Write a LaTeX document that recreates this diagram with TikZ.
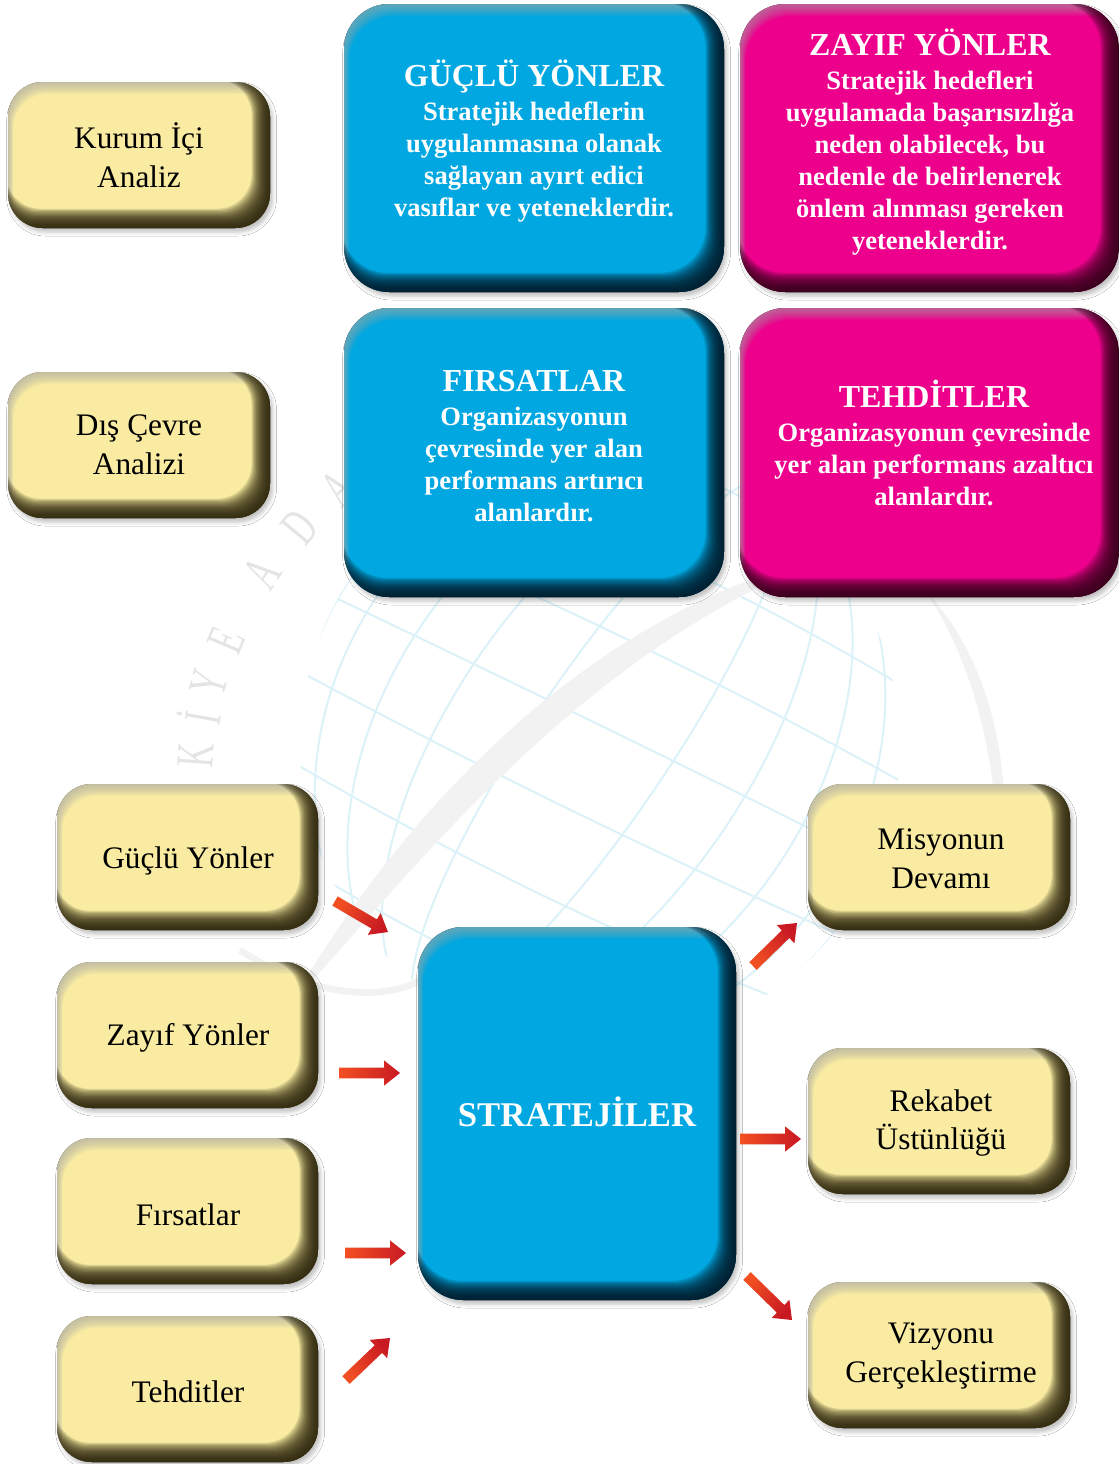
\documentclass[tikz,border=0pt]{standalone}
\usepackage{fontspec}
\setmainfont{Liberation Serif}
\usetikzlibrary{calc,shadows.blur}
\definecolor{ymain}{RGB}{249,236,162}
\definecolor{ydark}{RGB}{40,34,10}
\definecolor{bmain}{RGB}{0,167,224}
\definecolor{bdark}{RGB}{0,25,40}
\definecolor{mmain}{RGB}{236,0,140}
\definecolor{mdark}{RGB}{50,0,25}
\definecolor{arrA}{RGB}{242,80,35}
\definecolor{arrB}{RGB}{200,25,35}
\definecolor{globe}{RGB}{220,242,249}
\definecolor{swoosh}{RGB}{242,242,242}
\definecolor{wmark}{RGB}{228,228,228}
\tikzset{
  ylabel/.style={align=center, font=\fontsize{23.5}{29}\selectfont, text=black},
  wlabel/.style={align=center, font=\bfseries\fontsize{19.9}{24}\selectfont, text=white},
  slabel/.style={align=center, font=\bfseries\fontsize{26}{30}\selectfont, text=white},
  wmletter/.style={font=\fontsize{40}{40}\selectfont, text=wmark, inner sep=0pt},
  globeline/.style={draw=globe, line width=1.5pt},
}
\newcommand\ttl[1]{{\fontsize{24}{24}\selectfont #1}}
\newcommand\cnd[1]{\scalebox{0.62}[1]{#1}}
% #1 x1, #2 y1, #3 x2, #4 y2, #5 main, #6 dark, #7 radius
\newcommand\shinybox[7]{%
  \fill[#6!80!black, rounded corners=#7, blur shadow={shadow xshift=2pt,shadow yshift=-3pt,shadow blur radius=3pt,shadow opacity=25}] (#1,#2) rectangle (#3,#4);
  \begin{scope}
    \clip[rounded corners=#7] (#1,#2) rectangle (#3,#4);
    \fill[#5] (#1,#2) rectangle (#3,#4);
    \foreach \i in {1,...,12}{
      \fill[black!35, opacity=0.07, even odd rule, rounded corners=#7]
        (#1-30,#2-30) rectangle (#3+30,#4+30)
        ({#1+0.45*\i},{#2+1.0*\i}) rectangle (#3+20,#4+20);
    }
    \foreach \i in {1,...,16}{
      \fill[#6, opacity=0.15, even odd rule, rounded corners=#7]
        (#1-30,#2-30) rectangle (#3+30,#4+30)
        ({#1-10+0.5*\i},{#2-10+0.5*\i}) rectangle ({#3-1.15*\i},{#4-1.2*\i});
    }
  \end{scope}
}
% #1 start, #2 end, #3 shading angle
\newcommand\redarrow[3]{%
  \coordinate (ah) at ($(#2)!12pt!(#1)$);
  \shade[left color=arrA, right color=arrB, shading angle=#3]
    ($(#1)!4pt!90:(#2)$) -- ($(ah)!4pt!90:(#2)$) -- ($(ah)!9.5pt!90:(#2)$) -- (#2)
    -- ($(ah)!9.5pt!-90:(#2)$) -- ($(ah)!4pt!-90:(#2)$) -- ($(#1)!4pt!-90:(#2)$) -- cycle;
}
\begin{document}
\begin{tikzpicture}[x=0.75pt,y=-0.75pt]
\fill[white] (0,0) rectangle (1119,1464);
\useasboundingbox (0,0) rectangle (1119,1464);

% faint background emblem
\begin{scope}
  \clip (600,745) circle (300);
  \begin{scope}[shift={(600,745)}, rotate=-26]
    \foreach \b in {-240,-165,-90,-15,60,135,210}{
      \draw[globeline] (-420,\b) .. controls (-150,{\b+0.25*\b}) and (150,{\b+0.25*\b}) .. (420,\b);
    }
  \end{scope}
  \begin{scope}[shift={(600,745)}, rotate=-34]
    \foreach \r in {70,150,215,268,300}{
      \draw[globeline] (0,0) ellipse [x radius=\r, y radius=320];
    }
  \end{scope}
\end{scope}
\fill[swoosh] (290,1005) .. controls (380,850) and (560,620) .. (830,555)
  .. controls (575,655) and (415,870) .. (290,1005) -- cycle;
\fill[swoosh] (925,590) .. controls (1000,670) and (1015,790) .. (1000,905)
  .. controls (1000,790) and (985,680) .. (925,590) -- cycle;
\draw[swoosh, line width=5pt] (240,950) .. controls (330,1010) and (420,1000) .. (440,960);
\node[wmletter, rotate=86] (wk) at (196,755) {\cnd{K}};
\node[wmletter, rotate=80] (wi) at (199,717) {\cnd{İ}};
\node[wmletter, rotate=74] (wy) at (209,683) {\cnd{Y}};
\node[wmletter, rotate=67] (we) at (226,640) {\cnd{E}};
\node[wmletter, rotate=57] (wa) at (262,573) {\cnd{A}};
\node[wmletter, rotate=50] (wd) at (300,527) {\cnd{D}};
\node[wmletter, rotate=43] (wa2) at (338,488) {\cnd{A}};

% top area
\shinybox{8}{82}{270}{228}{ymain}{ydark}{26pt}
\node[ylabel] (kurum) at (139,155) {Kurum İçi\\Analiz};
\shinybox{8}{372}{270}{518}{ymain}{ydark}{26pt}
\node[ylabel] (dis) at (139,445) {Dış Çevre\\Analizi};

\shinybox{344}{4}{724}{292}{bmain}{bdark}{34pt}
\node[wlabel] (guclu) at (534,141) {\ttl{GÜÇLÜ YÖNLER}\\[1.5pt]Stratejik hedeflerin\\uygulanmasına olanak\\sağlayan ayırt edici\\vasıflar ve yeteneklerdir.};
\shinybox{740}{4}{1119}{292}{mmain}{mdark}{34pt}
\node[wlabel] (zayif) at (930,142) {\ttl{ZAYIF YÖNLER}\\[1.5pt]Stratejik hedefleri\\uygulamada başarısızlığa\\neden olabilecek, bu\\nedenle de belirlenerek\\önlem alınması gereken\\yeteneklerdir.};
\shinybox{344}{308}{724}{597}{bmain}{bdark}{34pt}
\node[wlabel] (firsat) at (534,446) {\ttl{FIRSATLAR}\\[1.5pt]Organizasyonun\\çevresinde yer alan\\performans artırıcı\\alanlardır.};
\shinybox{740}{308}{1119}{597}{mmain}{mdark}{34pt}
\node[wlabel] (tehdit) at (934,443) {\ttl{TEHDİTLER}\\[1.5pt]Organizasyonun çevresinde\\yer alan performans azaltıcı\\alanlardır.};

% bottom area
\shinybox{57}{784}{318}{930}{ymain}{ydark}{26pt}
\node[ylabel] (gy) at (188,861) {Güçlü Yönler};
\shinybox{57}{962}{318}{1108}{ymain}{ydark}{26pt}
\node[ylabel] (zy) at (188,1038) {Zayıf Yönler};
\shinybox{57}{1138}{318}{1284}{ymain}{ydark}{26pt}
\node[ylabel] (fr) at (188,1215) {Fırsatlar};
\shinybox{57}{1316}{318}{1462}{ymain}{ydark}{26pt}
\node[ylabel] (th) at (188,1392) {Tehditler};

\shinybox{418}{927}{736}{1300}{bmain}{bdark}{34pt}
\node[slabel] (str) at (577,1112) {STRATEJİLER};

\shinybox{808}{784}{1070}{930}{ymain}{ydark}{26pt}
\node[ylabel] (mis) at (941,859) {Misyonun\\Devamı};
\shinybox{808}{1048}{1070}{1194}{ymain}{ydark}{26pt}
\node[ylabel] (rek) at (941,1123) {Rekabet\\Üstünlüğü};
\shinybox{808}{1282}{1070}{1428}{ymain}{ydark}{26pt}
\node[ylabel] (viz) at (941,1356) {Vizyonu\\Gerçekleştirme};

% arrows
\coordinate (a1s) at (335,901); \coordinate (a1e) at (388,932);
\coordinate (a2s) at (339,1073); \coordinate (a2e) at (400,1073);
\coordinate (a3s) at (345,1253); \coordinate (a3e) at (406,1253);
\coordinate (a4s) at (346,1380); \coordinate (a4e) at (390,1338);
\coordinate (a5s) at (753,966); \coordinate (a5e) at (797,923);
\coordinate (a6s) at (740,1139); \coordinate (a6e) at (801,1139);
\coordinate (a7s) at (747,1276); \coordinate (a7e) at (792,1320);
\redarrow{a1s}{a1e}{60.5}
\redarrow{a2s}{a2e}{90}
\redarrow{a3s}{a3e}{90}
\redarrow{a4s}{a4e}{133.7}
\redarrow{a5s}{a5e}{134}
\redarrow{a6s}{a6e}{90}
\redarrow{a7s}{a7e}{45.6}
\end{tikzpicture}
\end{document}
